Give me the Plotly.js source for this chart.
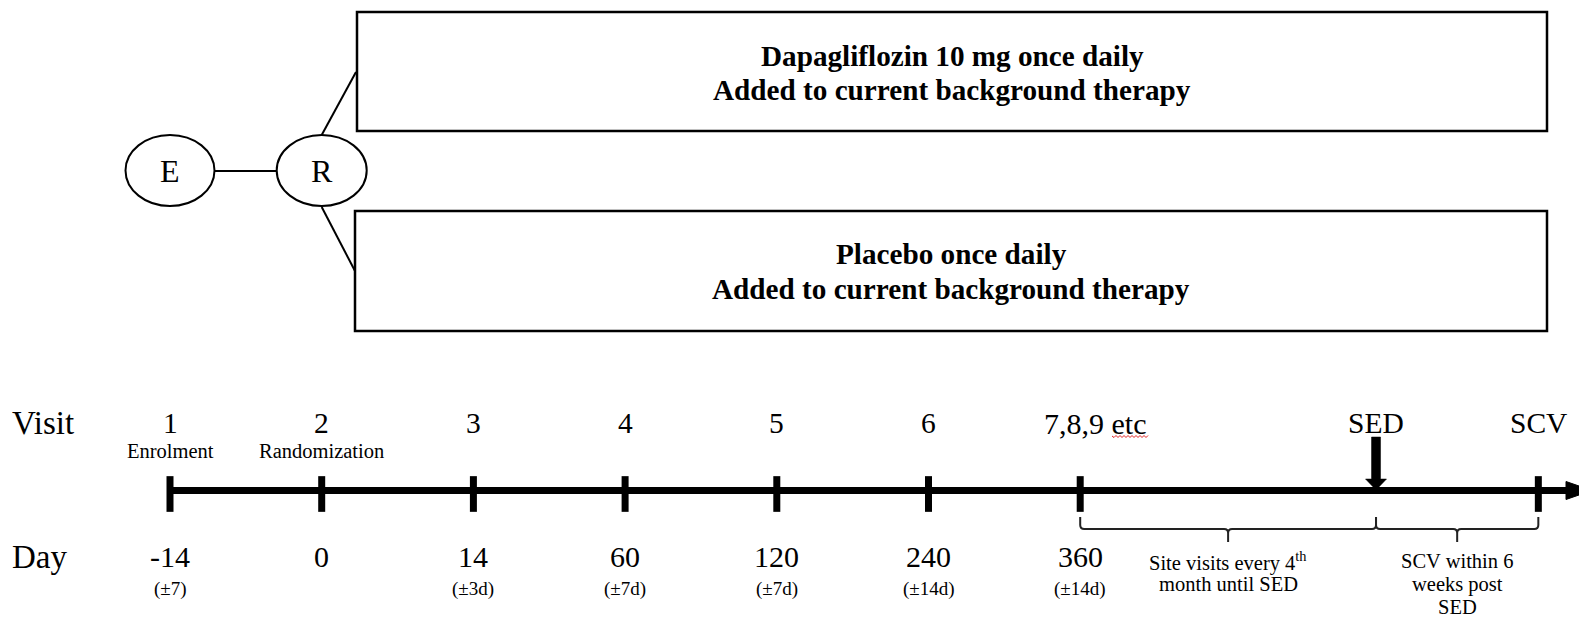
<!DOCTYPE html>
<html>
<head>
<meta charset="utf-8">
<script src="https://cdn.plot.ly/plotly-3.0.1.min.js"></script>
<style>
  html, body { margin: 0; padding: 0; background: #ffffff; overflow: hidden; }
  #chart { width: 1579px; height: 618px; }
</style>
</head>
<body>
<div id="chart"></div>
<script>
// ---------------- data ----------------
const visitLabels = ['1', '2', '3', '4', '5', '6', '7,8,9 etc', 'SED', 'SCV'];
const visitSlots  = [0, 1, 2, 3, 4, 5, 6, 7.95, 9.02];          // schematic timeline slot of each visit
const visitNotes  = ['Enrolment', 'Randomization'];
const dayValues   = ['-14', '0', '14', '60', '120', '240', '360'];
const dayWindows  = ['(±7)', '', '(±3d)', '(±7d)', '(±7d)', '(±14d)', '(±14d)'];
const nodeLabels  = ['E', 'R'];
const armLine1    = ['Dapagliflozin 10 mg once daily', 'Placebo once daily'];
const armLine2    = ['Added to current background therapy', 'Added to current background therapy'];
const phaseNotes  = [['Site visits every 4<sup>th</sup>', 'month until SED'],
                     ['SCV within 6', 'weeks post', 'SED']];
const rowTitles   = ['Visit', 'Day'];

// ---------------- helpers ----------------
const FONT = 'Liberation Serif, Times New Roman, serif';
const SLOT_PX = 151.7, ORIGIN_PX = 170;
const X = p => (p - ORIGIN_PX) / SLOT_PX;       // page pixel -> slot units
const W = p => p / SLOT_PX;                     // pixel width -> slot units

const shapes = [];
const annotations = [];
const ann = (x, y, text, size, extra) => annotations.push(Object.assign({
  x: x, y: y, xref: 'x', yref: 'y', text: text, showarrow: false,
  font: { family: FONT, size: size, color: '#000' }, xanchor: 'center', yanchor: 'middle'
}, extra || {}));

// ---------------- top: E -> R -> arms ----------------
const eSlot = visitSlots[0], rSlot = visitSlots[1];
shapes.push({ type: 'circle', xref: 'x', yref: 'y', x0: eSlot - W(44.5), x1: eSlot + W(44.5), y0: 135, y1: 206,
              line: { color: '#000', width: 2 }, fillcolor: 'rgba(0,0,0,0)' });
shapes.push({ type: 'circle', xref: 'x', yref: 'y', x0: rSlot - W(45), x1: rSlot + W(45), y0: 135, y1: 206,
              line: { color: '#000', width: 2 }, fillcolor: 'rgba(0,0,0,0)' });
shapes.push({ type: 'line', xref: 'x', yref: 'y', x0: eSlot + W(44.5), x1: rSlot - W(45), y0: 171, y1: 171,
              line: { color: '#000', width: 2 } });
shapes.push({ type: 'line', xref: 'x', yref: 'y', x0: rSlot, y0: 135, x1: X(356), y1: 72, line: { color: '#000', width: 2 } });
shapes.push({ type: 'line', xref: 'x', yref: 'y', x0: rSlot, y0: 207, x1: X(355), y1: 271, line: { color: '#000', width: 2 } });
ann(eSlot, 171, nodeLabels[0], 32);
ann(rSlot, 171, nodeLabels[1], 32);

const armBoxes = [{ x0: X(357), x1: X(1547), y0: 12, y1: 131, l1: 56, l2: 90 },
                  { x0: X(355), x1: X(1547), y0: 211, y1: 331, l1: 254, l2: 289 }];
armBoxes.forEach((b, i) => {
  shapes.push({ type: 'rect', xref: 'x', yref: 'y', x0: b.x0, x1: b.x1, y0: b.y0, y1: b.y1,
                line: { color: '#000', width: 2.5 }, fillcolor: 'rgba(0,0,0,0)' });
  const cx = (b.x0 + b.x1) / 2;
  ann(cx, b.l1, '<b>' + armLine1[i] + '</b>', 29.2);
  ann(cx, b.l2, '<b>' + armLine2[i] + '</b>', 29.2);
});

// ---------------- timeline ----------------
const Y_LINE = 490.5;
const lineEnd = X(1568);
// arrow head on the right
shapes.push({ type: 'path', xref: 'x', yref: 'y',
  path: `M${X(1566)},${Y_LINE - 9} L${X(1592)},${Y_LINE} L${X(1566)},${Y_LINE + 9} Z`,
  fillcolor: '#000', line: { color: '#000', width: 1 } });

// SED arrow (pixel-sized around its slot)
const sedIdx = visitLabels.indexOf('SED');
shapes.push({ type: 'path', xref: 'x', yref: 'y', xsizemode: 'pixel', xanchor: visitSlots[sedIdx],
  path: 'M-4.5,437 L4.5,437 L4.5,479 L10.5,479 L0,490 L-10.5,479 L-4.5,479 Z',
  fillcolor: '#000', line: { color: '#000', width: 0.5 } });

// brackets beneath the timeline
function bracket(a, b) {
  const r = W(4), c = (a + b) / 2;
  return `M${a},517 L${a},525 Q${a},529 ${a + r},529 L${c - r},529 Q${c},529 ${c},533 L${c},542 ` +
         `M${c},533 Q${c},529 ${c + r},529 L${b - r},529 Q${b},529 ${b},525 L${b},517`;
}
const scvIdx = visitLabels.indexOf('SCV');
const phaseSpans = [[visitSlots[6], visitSlots[sedIdx]], [visitSlots[sedIdx], visitSlots[scvIdx]]];
phaseSpans.forEach((s, i) => {
  shapes.push({ type: 'path', xref: 'x', yref: 'y', path: bracket(s[0], s[1]),
                line: { color: '#222', width: 2 } });
  const c = (s[0] + s[1]) / 2;
  phaseNotes[i].forEach((t, k) => ann(c, 561 + 23 * k, t, 20.5));
});

// red spell-check squiggle under "etc"
(function () {
  let p = `M${X(1112)},436`;
  for (let px = 1112, k = 0; px < 1148; px += 2, k++) {
    p += ` L${X(px + 2)},${k % 2 === 0 ? 437.5 : 435.5}`;
  }
  shapes.push({ type: 'path', xref: 'x', yref: 'y', path: p, line: { color: '#e02020', width: 1 } });
})();

// row titles
ann(X(10), 423, rowTitles[0], 33, { xanchor: 'left' });
ann(X(10), 557, rowTitles[1], 33, { xanchor: 'left' });

// visit labels
visitLabels.forEach((t, i) => {
  if (t === '7,8,9 etc') ann(visitSlots[i], 423, t, 30, { xanchor: 'left', xshift: -38 });
  else ann(visitSlots[i], 423, t, 29.5);
});
visitNotes.forEach((t, i) => ann(visitSlots[i], 451, t, 20.5));

// day labels
dayValues.forEach((t, i) => ann(visitSlots[i], 556, t, 30));
dayWindows.forEach((t, i) => { if (t) ann(visitSlots[i], 589, t, 19); });

// ticks: every visit except the SED event marker
const tickX = visitSlots.filter((s, i) => visitLabels[i] !== 'SED');
const tickY = tickX.map(() => 494);

const traces = [
  { type: 'scatter', mode: 'lines', x: [visitSlots[0], lineEnd], y: [Y_LINE, Y_LINE],
    line: { color: '#000', width: 7 }, hoverinfo: 'skip', showlegend: false },
  { type: 'scatter', mode: 'markers', x: tickX, y: tickY,
    marker: { symbol: 'line-ns', size: 25.5, color: '#000', line: { color: '#000', width: 7 } },
    hoverinfo: 'skip', showlegend: false }
];

const layout = {
  width: 1579, height: 618, autosize: false,
  margin: { l: 0, r: 0, t: 0, b: 0, pad: 0 },
  paper_bgcolor: '#ffffff', plot_bgcolor: '#ffffff',
  showlegend: false,
  xaxis: { range: [X(0), X(1579)], visible: false, fixedrange: true },
  yaxis: { range: [618, 0], visible: false, fixedrange: true },
  shapes: shapes, annotations: annotations
};

Plotly.newPlot('chart', traces, layout, { staticPlot: true, displayModeBar: false });
</script>
</body>
</html>
